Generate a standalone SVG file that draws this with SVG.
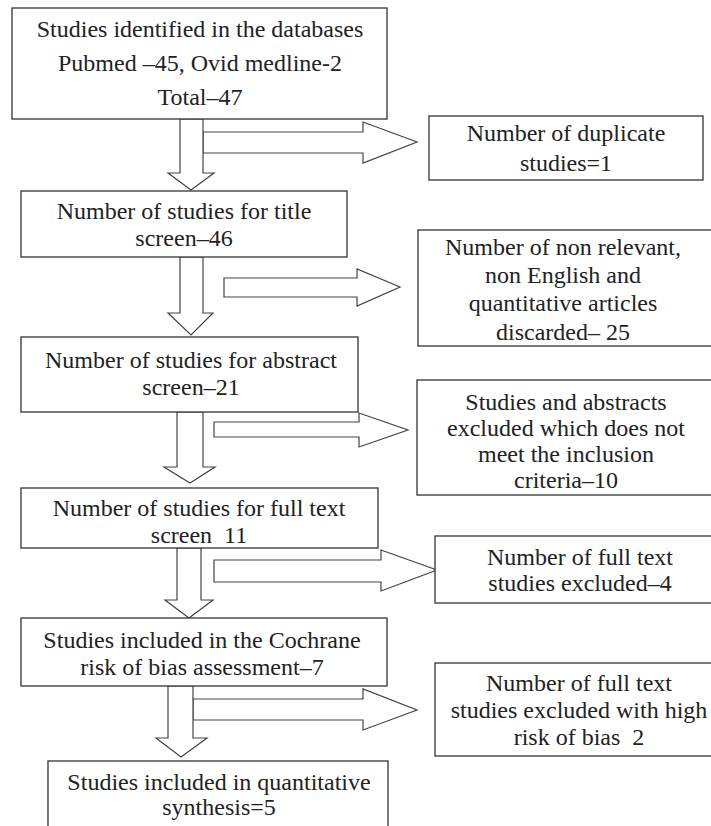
<svg xmlns="http://www.w3.org/2000/svg" width="711" height="826" viewBox="0 0 711 826">
<style>
.box{fill:#fff;stroke:#333;stroke-width:1.3}
.arr{fill:#fff;stroke:#444;stroke-width:1.2;stroke-linejoin:miter}
text{font-family:'Liberation Serif','Times New Roman',serif;font-size:24px;fill:#222;text-anchor:middle}
</style>
<rect width="711" height="826" fill="#fff"/>
<g id="connectors">
<polygon class="arr" points="203,132 363,132 363,122 417,142 363,163 363,153 203,153"/>
<polygon class="arr" points="180,119 203,119 203,173 214,173 191,190 168,173 180,173"/>
<polygon class="arr" points="224,278 357,278 357,269 400,287 357,306 357,297 224,297"/>
<polygon class="arr" points="180,257 203,257 203,313 213,313 191,335 168,313 180,313"/>
<polygon class="arr" points="214,422 359,422 359,413 408,430 359,447 359,437 214,437"/>
<polygon class="arr" points="177,412 203,412 203,467 215,467 190,483 164,467 177,467"/>
<polygon class="arr" points="214,560 381,560 381,550 437,570 381,591 381,582 214,582"/>
<polygon class="arr" points="177,548 201,548 201,600 213,600 189,618 165,600 177,600"/>
<polygon class="arr" points="193,699 363,699 363,689 417,710 363,730 363,720 193,720"/>
<polygon class="arr" points="168,686 193,686 193,738 207,738 181,757 156,738 168,738"/>
</g>
<g id="n1">
<rect class="box" x="12" y="8" width="375" height="111"/>
<text x="200" y="37">Studies identified in the databases</text>
<text x="200" y="71">Pubmed –45, Ovid medline-2</text>
<text x="200" y="105">Total–47</text>
</g>
<g id="n1x">
<rect class="box" x="429" y="116" width="274" height="64"/>
<text x="566" y="141">Number of duplicate</text>
<text x="566" y="171">studies=1</text>
</g>
<g id="n2">
<rect class="box" x="21" y="191" width="326" height="66"/>
<text x="184" y="219">Number of studies for title</text>
<text x="184" y="246">screen–46</text>
</g>
<g id="n2x">
<rect class="box" x="418" y="230" width="300" height="116"/>
<text x="563" y="255">Number of non relevant,</text>
<text x="563" y="283">non English and</text>
<text x="563" y="311">quantitative articles</text>
<text x="563" y="340">discarded– 25</text>
</g>
<g id="n3">
<rect class="box" x="21" y="337" width="337" height="75"/>
<text x="191" y="368">Number of studies for abstract</text>
<text x="191" y="395">screen–21</text>
</g>
<g id="n3x">
<rect class="box" x="417" y="380" width="300" height="115"/>
<text x="566" y="410">Studies and abstracts</text>
<text x="566" y="436">excluded which does not</text>
<text x="566" y="462">meet the inclusion</text>
<text x="566" y="488">criteria–10</text>
</g>
<g id="n4">
<rect class="box" x="21" y="488" width="357" height="60"/>
<text x="199" y="516">Number of studies for full text</text>
<text x="199" y="543">screen&#160;&#160;11</text>
</g>
<g id="n4x">
<rect class="box" x="435" y="536" width="285" height="67"/>
<text x="580" y="565">Number of full text</text>
<text x="580" y="591">studies excluded–4</text>
</g>
<g id="n5">
<rect class="box" x="21" y="618" width="366" height="68"/>
<text x="202" y="648">Studies included in the Cochrane</text>
<text x="202" y="675">risk of bias assessment–7</text>
</g>
<g id="n5x">
<rect class="box" x="435" y="663" width="285" height="93"/>
<text x="579" y="691">Number of full text</text>
<text x="579" y="718">studies excluded with high</text>
<text x="579" y="745">risk of bias&#160;&#160;2</text>
</g>
<g id="n6">
<rect class="box" x="48" y="761" width="340" height="80"/>
<text x="219" y="790">Studies included in quantitative</text>
<text x="219" y="815">synthesis=5</text>
</g>
</svg>
